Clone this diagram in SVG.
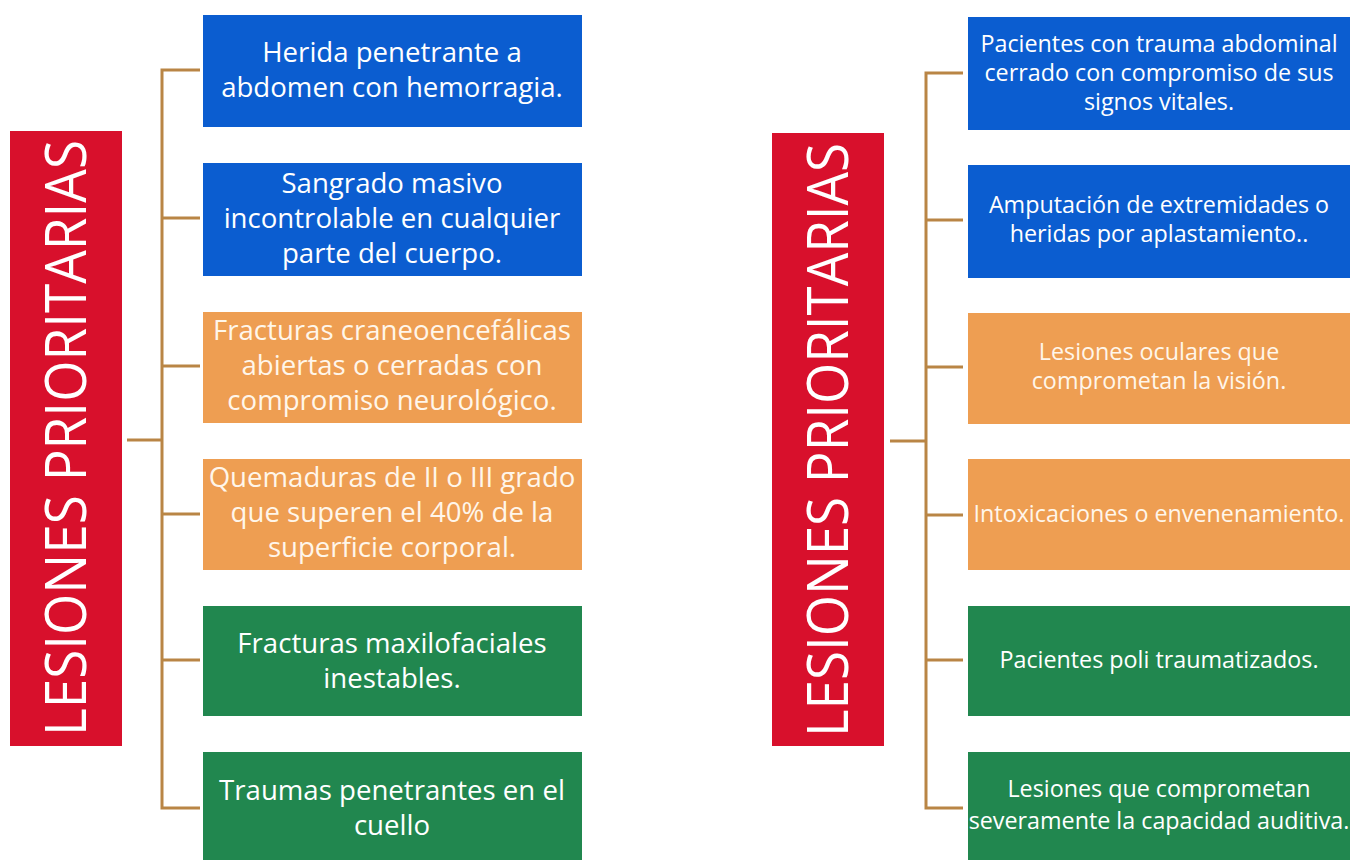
<svg xmlns="http://www.w3.org/2000/svg" width="1353" height="860" viewBox="0 0 1353 860">
<style>
.bg{fill:#ffffff}
.title{fill:#d8102c}
.blue{fill:#0b5dd0}
.orange{fill:#ee9e52}
.green{fill:#21874f}
.tt{font-family:"Open Sans",Lato,sans-serif;font-weight:400;fill:#ffffff;text-anchor:middle}
.tl{font-family:"Open Sans",Lato,sans-serif;font-size:27.6px;fill:#ffffff;text-anchor:middle}
.tr{font-family:"Open Sans",Lato,sans-serif;font-size:23.3px;fill:#ffffff;text-anchor:middle}
.ow{fill:#fff6ea}
.conn{fill:none;stroke:#b98545;stroke-width:3}
</style>
<rect class="bg" x="0" y="0" width="1353" height="860"/>

<g id="connectors">
  <path class="conn" d="M200 70 H162 V808 H200"/>
  <path class="conn" d="M162 218 H200 M162 366 H200 M162 514 H200 M162 660 H200 M127 440 H162"/>
  <path class="conn" d="M963 73 H926 V808 H963"/>
  <path class="conn" d="M926 220 H963 M926 367 H963 M926 515 H963 M926 660 H963 M890 441 H926"/>
</g>

<g id="title-left">
  <rect class="title" x="10" y="131" width="112" height="615"/>
  <text class="tt" font-size="56" transform="translate(86 438) rotate(-90)" textLength="596" lengthAdjust="spacingAndGlyphs">LESIONES PRIORITARIAS</text>
</g>

<g id="left-1">
  <rect class="blue" x="203" y="15" width="379" height="112"/>
  <text class="tl"><tspan x="392" y="62">Herida penetrante a</tspan><tspan x="392" y="97">abdomen con hemorragia.</tspan></text>
</g>
<g id="left-2">
  <rect class="blue" x="203" y="163" width="379" height="113"/>
  <text class="tl"><tspan x="392" y="193">Sangrado masivo</tspan><tspan x="392" y="228">incontrolable en cualquier</tspan><tspan x="392" y="263">parte del cuerpo.</tspan></text>
</g>
<g id="left-3">
  <rect class="orange" x="203" y="312" width="379" height="111"/>
  <text class="tl ow"><tspan x="392" y="340">Fracturas craneoencefálicas</tspan><tspan x="392" y="375">abiertas o cerradas con</tspan><tspan x="392" y="410">compromiso neurológico.</tspan></text>
</g>
<g id="left-4">
  <rect class="orange" x="203" y="459" width="379" height="111"/>
  <text class="tl ow"><tspan x="392" y="487">Quemaduras de II o III grado</tspan><tspan x="392" y="522">que superen el 40% de la</tspan><tspan x="392" y="557">superficie corporal.</tspan></text>
</g>
<g id="left-5">
  <rect class="green" x="203" y="606" width="379" height="110"/>
  <text class="tl"><tspan x="392" y="653">Fracturas maxilofaciales</tspan><tspan x="392" y="688">inestables.</tspan></text>
</g>
<g id="left-6">
  <rect class="green" x="203" y="752" width="379" height="108"/>
  <text class="tl"><tspan x="392" y="800">Traumas penetrantes en el</tspan><tspan x="392" y="835">cuello</tspan></text>
</g>

<g id="title-right">
  <rect class="title" x="772" y="133" width="112" height="613"/>
  <text class="tt" font-size="56" transform="translate(848 440) rotate(-90)" textLength="594" lengthAdjust="spacingAndGlyphs">LESIONES PRIORITARIAS</text>
</g>

<g id="right-1">
  <rect class="blue" x="968" y="17" width="382" height="113"/>
  <text class="tr"><tspan x="1159" y="52">Pacientes con trauma abdominal</tspan><tspan x="1159" y="81">cerrado con compromiso de sus</tspan><tspan x="1159" y="110">signos vitales.</tspan></text>
</g>
<g id="right-2">
  <rect class="blue" x="968" y="165" width="382" height="113"/>
  <text class="tr"><tspan x="1159" y="213">Amputación de extremidades o</tspan><tspan x="1159" y="242">heridas por aplastamiento..</tspan></text>
</g>
<g id="right-3">
  <rect class="orange" x="968" y="313" width="382" height="111"/>
  <text class="tr ow"><tspan x="1159" y="360">Lesiones oculares que</tspan><tspan x="1159" y="389">comprometan la visión.</tspan></text>
</g>
<g id="right-4">
  <rect class="orange" x="968" y="459" width="382" height="111"/>
  <text class="tr ow" x="1159" y="522">Intoxicaciones o envenenamiento.</text>
</g>
<g id="right-5">
  <rect class="green" x="968" y="606" width="382" height="110"/>
  <text class="tr" x="1159" y="668">Pacientes poli traumatizados.</text>
</g>
<g id="right-6">
  <rect class="green" x="968" y="752" width="382" height="108"/>
  <text class="tr"><tspan x="1159" y="797">Lesiones que comprometan</tspan><tspan x="1159" y="829">severamente la capacidad auditiva.</tspan></text>
</g>
</svg>
